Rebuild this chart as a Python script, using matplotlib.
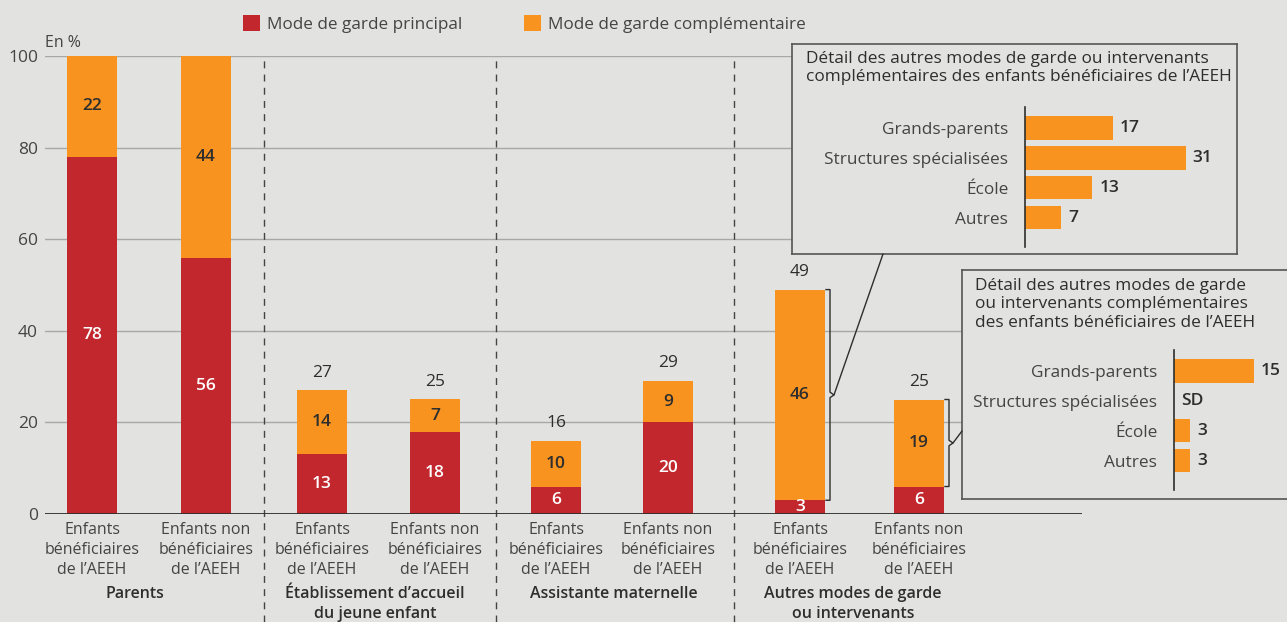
import numpy as np
import matplotlib
matplotlib.use("Agg")
import matplotlib.pyplot as plt
import matplotlib.transforms as mtransforms
from matplotlib.patches import ConnectionPatch

plt.rcParams['font.family'] = ['Open Sans', 'DejaVu Sans']

# ---- data ----
series_names = ["Mode de garde principal", "Mode de garde complémentaire"]
bar_labels = ["Enfants\nbénéficiaires\nde l’AEEH", "Enfants non\nbénéficiaires\nde l’AEEH"] * 4
groups = ["Parents", "Établissement d’accueil\ndu jeune enfant",
          "Assistante maternelle", "Autres modes de garde\nou intervenants"]
principal = [78, 56, 13, 18, 6, 20, 3, 6]
complementaire = [22, 44, 14, 7, 10, 9, 46, 19]

detail_cats = ["Grands-parents", "Structures spécialisées", "École", "Autres"]
detail_aeeh = [17, 31, 13, 7]
detail_non = [15, np.nan, 3, 3]   # NaN -> "SD"
detail_title_1 = "Détail des autres modes de garde ou intervenants\ncomplémentaires des enfants bénéficiaires de l’AEEH"
detail_title_2 = "Détail des autres modes de garde\nou intervenants complémentaires\ndes enfants bénéficiaires de l’AEEH"

# ---- style ----
W, H = 1287, 622
BG = '#e2e2e1'
RED = '#c1272d'
ORANGE = '#f7931e'
TXT = '#2e2e2e'
GREY_TXT = '#444444'


def rect(x0, y0, x1, y1):
    # pixel box (top-left origin) -> figure fraction
    return [x0 / W, 1 - y1 / H, (x1 - x0) / W, (y1 - y0) / H]


fig = plt.figure(figsize=(W / 100, H / 100), dpi=100, facecolor=BG)

# main axes, x in pixel-like units
ax = fig.add_axes(rect(45, 56, 1082, 514))
ax.set_facecolor(BG)
ax.set_xlim(45, 1082)
ax.set_ylim(0, 100)
xs = np.array([92, 206, 322, 435, 556, 668, 800, 919])
bw = 50

p = np.array(principal)
c = np.array(complementaire)
b1 = ax.bar(xs, p, width=bw, color=RED, label=series_names[0], zorder=2)
b2 = ax.bar(xs, c, width=bw, bottom=p, color=ORANGE, label=series_names[1], zorder=2)

for x, pv, cv in zip(xs, p, c):
    ax.text(x, pv / 2, str(pv), ha='center', va='center', color='white',
            fontsize=12.5, fontweight='semibold', zorder=3)
    ax.text(x, pv + cv / 2, str(cv), ha='center', va='center', color=TXT,
            fontsize=12.5, fontweight='semibold', zorder=3)
    tot = pv + cv
    if tot < 100:
        ax.annotate(str(tot), (x, tot), xytext=(0, 7), textcoords='offset points',
                    ha='center', va='bottom', color=TXT, fontsize=12.5,
                    fontweight='medium')

ax.set_yticks(np.arange(0, 101, 20))
ax.yaxis.grid(True, color='#a8a8a8', lw=1)
ax.set_axisbelow(True)
for s in ax.spines.values():
    s.set_visible(False)
ax.axhline(0, color=TXT, lw=1.3, zorder=3)
ax.tick_params(axis='y', length=0, pad=5, labelsize=12.5, labelcolor=GREY_TXT)
ax.set_xticks(xs, bar_labels)
ax.tick_params(axis='x', length=0, pad=6, labelsize=11.5, labelcolor=GREY_TXT)
for t in ax.get_xticklabels():
    t.set_linespacing(1.32)
ax.text(0, 1.012, "En %", transform=ax.transAxes, ha='left', va='bottom',
        fontsize=11.5, color=GREY_TXT)

# dashed separators between groups
seps = (xs[1:-1:2] + xs[2::2]) / 2
bt = mtransforms.blended_transform_factory(ax.transData, fig.transFigure)
for sx in seps:
    ax.plot([sx, sx], [0, 1 - 56 / H], transform=bt, color=GREY_TXT, lw=1,
            linestyle=(0, (5, 4.5)), clip_on=False, zorder=1)

# group labels
group_x = [135, 375, 614, 853]
for gx, g in zip(group_x, groups):
    fig.text(gx / W, 1 - 586 / H, g, ha='center', va='top', fontsize=11.5,
             fontweight='semibold', color=TXT, linespacing=1.3)

# legend
fig.legend(handles=[b1, b2], loc='center left', bbox_to_anchor=(243 / W, 1 - 24 / H),
           ncol=2, frameon=False, fontsize=12.3, handlelength=1.0, handleheight=1.0,
           handletextpad=0.4, columnspacing=3.6, borderpad=0, borderaxespad=0,
           labelcolor=GREY_TXT)


def detail_box(box_px, inner_px, title, values, scale, title_xy):
    box = fig.add_axes(rect(*box_px))
    box.set_facecolor(BG)
    box.set_xticks([])
    box.set_yticks([])
    for s in box.spines.values():
        s.set_color('#555555')
        s.set_linewidth(1.2)
    fig.text(title_xy[0] / W, 1 - title_xy[1] / H, title, ha='left', va='top',
             fontsize=12.4, color=TXT, linespacing=1.2)
    inner = fig.add_axes(rect(*inner_px))
    inner.set_facecolor('none')
    inner.set_xlim(0, (inner_px[2] - inner_px[0]) / scale)
    inner.set_ylim(len(values) - 1 + 0.97, -0.7)
    yy = np.arange(len(values))
    vals = np.nan_to_num(np.array(values, dtype=float))
    inner.barh(yy, vals, height=0.77, color=ORANGE)
    for i, v in enumerate(values):
        lab = "SD" if np.isnan(v) else str(int(v))
        inner.annotate(lab, (0 if np.isnan(v) else v, i), xytext=(5, 0),
                       textcoords='offset points', ha='left', va='center',
                       fontsize=12.5, fontweight='semibold', color=TXT)
    for k, s in inner.spines.items():
        s.set_visible(k == 'left')
    inner.spines['left'].set_color(TXT)
    inner.spines['left'].set_linewidth(1.2)
    inner.set_xticks([])
    inner.set_yticks(yy, detail_cats)
    inner.tick_params(axis='y', length=0, pad=12, labelsize=12.4, labelcolor=GREY_TXT)
    return box


box1 = detail_box((792, 44, 1237, 254), (1025, 107, 1230, 247), detail_title_1,
                  detail_aeeh, 5.18, (806, 51))
box2 = detail_box((962, 270, 1295, 499), (1174, 350, 1287, 490), detail_title_2,
                  detail_non, 5.33, (975, 278))

# brackets on the "Autres modes" bars + connectors to the boxes
for k, (bx, target) in enumerate([(xs[6], (883, 254)), (xs[7], (962, 431))]):
    i = 6 + k
    top = p[i] + c[i]
    bot = p[i]
    mid = (top + bot) / 2
    r = bx + bw / 2
    ax.plot([r + 1, r + 5, r + 5, r + 9, r + 5, r + 5, r + 1],
            [top, top, mid + 0.6, mid, mid - 0.6, bot, bot],
            color=TXT, lw=1, zorder=4, clip_on=False)
    con = ConnectionPatch(xyA=(r + 9, mid), coordsA=ax.transData,
                          xyB=(target[0] / W, 1 - target[1] / H), coordsB=fig.transFigure,
                          color=TXT, lw=1)
    fig.add_artist(con)

fig.savefig("out.png", dpi=100, facecolor=BG)
